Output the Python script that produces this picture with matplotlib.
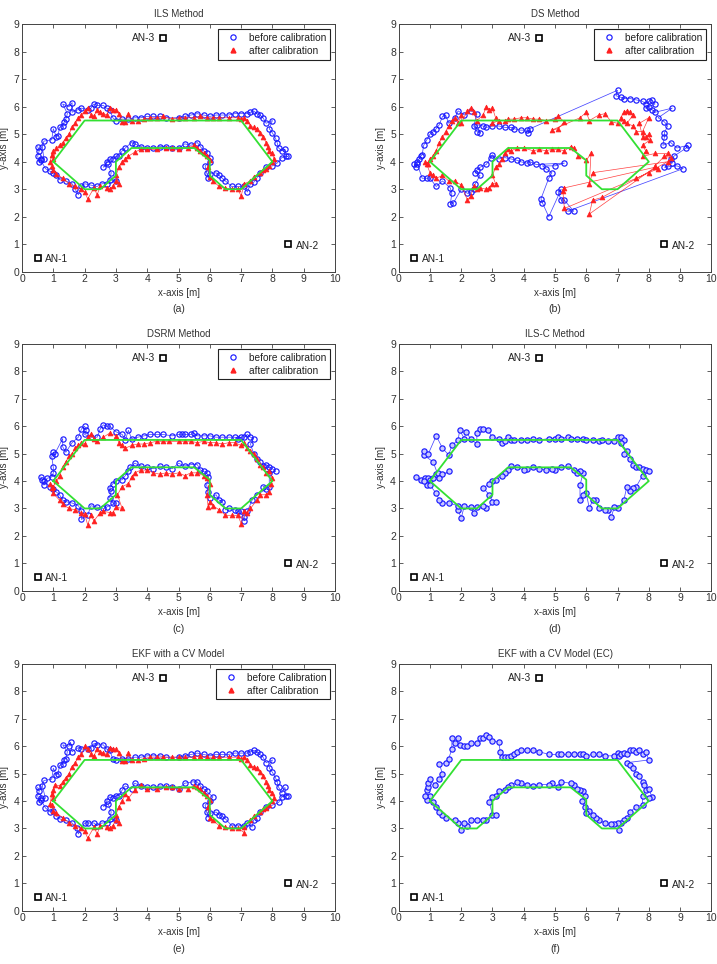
import numpy as np
import matplotlib
matplotlib.use("Agg")
import matplotlib.pyplot as plt
from matplotlib.lines import Line2D

plt.rcParams['font.family'] = ['Liberation Sans', 'DejaVu Sans']

# ---------------- data ----------------
ref_x = [1, 2, 7, 8, 7, 6.5, 6, 6, 5.5, 3.5, 3, 3, 2.5, 2, 1]
ref_y = [4, 5.5, 5.5, 4, 3, 3, 3.5, 4.05, 4.5, 4.5, 4, 3.5, 3, 3, 4]

anchor_names = ["AN-1", "AN-2", "AN-3"]
anchor_x = [0.5, 8.5, 4.5]
anchor_y = [0.5, 1.0, 8.5]

titles = ["ILS Method", "DS Method", "DSRM Method", "ILS-C Method",
          "EKF with a CV Model", "EKF with a CV Model (EC)"]
captions = ["(a)", "(b)", "(c)", "(d)", "(e)", "(f)"]
legend_before = ["before calibration", "before calibration", "before calibration", None,
                 "before Calibration", None]
legend_after = ["after calibration", "after calibration", "after calibration", None,
                "after Calibration", None]

a_before = [(0.5,4.55),(0.55,4.4),(0.5,4.2),(0.55,4.0),(0.6,4.1),(0.7,4.1),(0.65,4.55),(0.7,4.75),
            (0.95,4.8),(1.0,5.2),(1.1,4.9),(1.15,4.95),(1.2,5.25),(1.3,5.3),(1.35,5.45),(1.4,5.55),
            (1.45,5.75),(1.3,6.1),(1.5,6.0),(1.6,6.15),(1.6,5.8),(1.8,5.9),(1.9,5.95),(2.1,5.9),
            (2.2,5.95),(2.3,6.1),(2.4,6.05),(2.6,6.05),(2.7,5.95),(2.8,5.9),(2.9,5.6),(3.0,5.5),
            (3.2,5.55),(3.4,5.55),(3.6,5.6),(3.8,5.6),(4.0,5.65),(4.2,5.65),(4.4,5.65),(4.6,5.6),
            (5.0,5.6),(5.2,5.65),(5.4,5.7),(5.6,5.75),(5.8,5.7),(6.0,5.65),(6.2,5.7),(6.4,5.7),
            (6.6,5.7),(6.8,5.75),(7.0,5.75),(7.2,5.75),(7.3,5.8),(7.4,5.85),(7.5,5.75),(7.6,5.7),
            (7.7,5.6),(7.8,5.4),(8.0,5.5),(7.9,5.2),(8.0,5.05),(8.1,4.85),(8.15,4.7),(8.2,4.5),
            (8.3,4.4),(8.4,4.45),(8.45,4.2),(8.5,4.2),(8.3,4.15),(8.15,3.95),(8.0,3.85),(7.8,3.8),
            (7.6,3.6),(7.5,3.4),(7.4,3.25),(7.3,3.2),(7.2,2.9),(7.1,3.1),(6.9,3.1),(6.7,3.1),
            (6.5,3.3),(6.4,3.4),(6.3,3.5),(6.2,3.6),(6.0,3.55),(5.95,3.4),(5.9,3.6),(5.85,3.85),
            (6.0,4.0),(6.0,4.15),(5.9,4.3),(5.8,4.4),(5.7,4.55),(5.6,4.7),(5.4,4.6),(5.2,4.65),
            (5.0,4.5),(4.8,4.5),(4.6,4.55),(4.4,4.55),(4.2,4.5),(4.0,4.5),(3.8,4.55),(3.6,4.65),
            (3.5,4.7),(3.3,4.5),(3.2,4.4),(3.1,4.2),(3.0,4.2),(2.9,4.1),(2.8,4.1),(2.7,4.0),
            (2.6,3.8),(2.75,3.9),(2.85,3.6),(2.8,3.35),(3.0,3.3),(2.7,3.2),(2.55,3.2),(2.4,3.1),
            (2.2,3.15),(2.0,3.2),(1.9,3.1),(1.8,2.8),(1.7,3.0),(1.6,3.2),(1.4,3.3),(1.2,3.35),
            (1.1,3.5),(1.0,3.6),(0.9,3.65),(0.75,3.75),(0.6,4.05)]

a_after = [(0.9,4.0),(0.95,4.25),(1.0,4.4),(1.0,4.1),(1.1,4.5),(1.2,4.6),(1.3,4.7),(1.4,4.85),
           (1.5,5.0),(1.6,5.25),(1.7,5.4),(1.8,5.6),(1.9,5.7),(2.0,5.85),(2.1,5.95),(2.2,5.7),
           (2.3,5.65),(2.4,5.9),(2.5,5.8),(2.6,5.75),(2.7,5.7),(2.8,5.95),(2.9,5.9),(3.0,5.9),
           (3.1,5.75),(3.2,5.45),(3.3,5.45),(3.4,5.75),(3.5,5.5),(3.7,5.5),(3.9,5.55),(4.1,5.6),
           (4.3,5.6),(4.5,5.65),(4.8,5.55),(5.0,5.6),(5.2,5.6),(5.5,5.6),(5.7,5.65),(5.9,5.6),
           (6.1,5.6),(6.3,5.6),(6.6,5.6),(6.9,5.6),(7.0,5.55),(7.1,5.6),(7.2,5.5),(7.3,5.3),
           (7.4,5.25),(7.5,5.2),(7.6,5.05),(7.7,4.9),(7.8,4.7),(7.85,4.55),(7.9,4.4),(8.0,4.3),
           (8.05,4.1),(8.0,4.0),(7.9,3.85),(7.8,3.75),(7.7,3.7),(7.6,3.6),(7.4,3.45),(7.3,3.3),
           (7.1,3.2),(7.0,2.75),(6.9,3.0),(6.7,3.0),(6.5,3.05),(6.3,3.1),(6.1,3.3),(6.0,3.45),
           (5.95,3.8),(6.0,4.05),(5.9,4.2),(5.8,4.3),(5.7,4.4),(5.6,4.5),(5.5,4.6),(5.3,4.5),
           (5.0,4.45),(4.8,4.5),(4.6,4.5),(4.3,4.45),(4.0,4.45),(3.8,4.45),(3.6,4.35),(3.4,4.2),
           (3.3,4.1),(3.2,4.0),(3.1,3.8),(3.0,3.5),(3.1,3.2),(3.0,3.3),(2.9,3.1),(2.8,3.0),
           (2.7,3.05),(2.5,3.1),(2.4,2.8),(2.3,3.05),(2.1,2.65),(2.0,2.9),(1.9,3.0),(1.7,3.1),
           (1.5,3.2),(1.3,3.4),(1.1,3.55),(1.0,3.7),(0.95,3.85)]

b_before = [(0.5,3.9),(0.55,3.8),(0.6,4.0),(0.65,4.1),(0.7,4.2),(0.75,4.25),(0.8,4.6),(0.9,4.8),
            (1.0,5.0),(1.1,5.1),(1.2,5.2),(1.3,5.35),(1.4,5.65),(1.5,5.7),(1.6,5.4),(1.8,5.6),
            (1.9,5.85),(2.1,5.7),(2.3,5.85),(2.5,5.75),(2.4,5.3),(2.5,5.1),(2.6,5.05),(2.5,5.35),
            (2.7,5.3),(2.8,5.25),(3.0,5.3),(3.2,5.3),(3.4,5.25),(3.6,5.25),(3.7,5.2),(3.9,5.15),
            (4.1,5.15),(4.15,5.05),(4.2,5.2),(7.0,6.6),(6.95,6.4),(7.1,6.35),(7.2,6.3),(7.4,6.3),
            (7.6,6.25),(7.8,6.2),(7.9,6.1),(8.0,6.2),(8.1,6.25),(8.2,6.1),(8.0,6.0),(7.9,5.95),
            (8.1,5.9),(8.2,5.8),(8.75,5.95),(8.3,5.6),(8.5,5.45),(8.6,5.3),(8.5,5.05),(8.5,4.9),
            (8.45,4.6),(8.7,4.7),(8.9,4.5),(9.25,4.6),(9.2,4.5),(8.8,4.2),(8.7,4.1),(8.75,3.95),
            (8.6,3.85),(8.5,3.8),(8.9,3.85),(9.1,3.75),(5.4,2.2),(5.6,2.2),(5.3,2.6),(5.2,2.6),
            (5.1,2.9),(5.2,3.0),(4.8,2.0),(4.6,2.5),(4.55,2.65),(4.8,3.4),(4.9,3.6),(4.7,3.75),
            (4.6,3.85),(5.0,3.85),(5.3,3.95),(4.4,3.9),(4.2,4.0),(4.1,3.95),(3.9,4.0),(3.8,4.05),
            (3.6,4.1),(3.4,4.15),(3.2,4.1),(3.0,4.25),(2.95,4.15),(2.8,3.9),(2.6,3.8),(2.5,3.7),
            (2.45,3.6),(2.6,3.5),(2.45,3.2),(2.4,3.0),(2.3,2.9),(2.2,2.85),(2.0,3.0),(1.75,2.5),
            (1.65,2.45),(1.7,2.85),(1.65,3.05),(1.4,3.3),(1.2,3.1),(1.0,3.4),(0.9,3.4),(0.75,3.4),
            (0.6,3.9)]

b_after = [(0.85,4.0),(0.95,3.9),(1.0,4.1),(1.1,4.2),(1.2,4.4),(1.3,4.7),(1.4,4.9),(1.5,5.1),
           (1.6,5.3),(1.7,5.5),(1.8,5.6),(1.9,5.4),(2.0,5.7),(2.0,5.4),(2.2,5.85),(2.3,5.95),
           (2.4,5.8),(2.5,5.5),(2.7,5.7),(2.8,6.0),(2.9,5.9),(3.0,5.95),(3.1,5.6),(3.0,5.4),
           (3.2,5.5),(3.4,5.5),(3.5,5.55),(3.7,5.55),(3.9,5.6),(4.1,5.6),(4.3,5.55),(4.5,5.55),
           (4.7,5.5),(5.0,5.55),(5.1,5.65),(5.3,5.45),(5.1,5.2),(4.9,5.15),(5.8,5.6),(6.0,5.8),
           (6.1,5.5),(6.4,5.7),(6.6,5.75),(6.8,5.45),(7.0,5.4),(7.2,5.5),(7.1,5.6),(7.2,5.8),
           (7.3,5.85),(7.4,5.8),(7.5,5.7),(7.3,5.4),(7.5,5.3),(7.6,5.1),(7.8,5.1),(8.0,5.6),
           (7.7,5.4),(7.8,4.9),(7.9,4.9),(8.0,5.0),(8.05,4.8),(7.8,4.6),(7.9,4.4),(7.8,4.2),
           (8.2,4.3),(8.6,4.3),(8.7,4.15),(8.5,4.2),(8.2,3.85),(8.3,3.75),(8.0,3.6),(7.6,3.4),
           (5.3,2.3),(5.25,2.95),(5.3,3.05),(8.2,3.8),(6.1,2.1),(6.2,2.6),(6.5,2.7),(8.6,4.0),
           (6.2,3.6),(6.1,3.2),(6.15,4.3),(6.0,4.05),(5.75,4.2),(5.6,4.5),(5.5,4.55),(5.3,4.4),
           (5.1,4.45),(4.9,4.45),(4.7,4.4),(4.5,4.45),(4.3,4.4),(4.0,4.5),(3.8,4.5),(3.6,4.4),
           (3.5,4.45),(3.4,4.3),(3.3,4.1),(3.2,3.9),(3.1,3.8),(3.0,3.5),(3.1,3.2),(3.0,3.2),
           (2.9,3.05),(2.8,3.0),(2.6,3.05),(2.5,3.0),(2.4,3.1),(2.3,2.75),(2.2,2.6),(2.0,3.15),
           (1.8,3.3),(1.6,3.3),(1.4,3.5),(1.2,3.4),(1.1,3.5),(1.0,3.6),(0.9,3.9)]

c_before = [(0.6,4.15),(0.65,4.05),(0.7,3.85),(0.8,4.1),(0.95,4.15),(1.0,4.3),(1.0,4.5),(0.95,4.9),
            (1.0,5.05),(1.05,5.0),(1.3,5.55),(1.3,5.25),(1.4,5.05),(1.6,5.4),(1.8,5.6),(1.9,5.9),
            (2.0,6.0),(2.05,5.85),(2.0,5.7),(2.2,5.6),(2.4,5.6),(2.5,5.9),(2.6,6.05),(2.7,6.0),
            (2.8,6.0),(3.0,5.8),(3.2,5.7),(3.3,5.5),(3.4,5.85),(3.5,5.55),(3.7,5.6),(3.9,5.65),
            (4.1,5.7),(4.3,5.7),(4.5,5.7),(4.8,5.65),(5.0,5.7),(5.1,5.7),(5.2,5.7),(5.4,5.7),
            (5.5,5.75),(5.6,5.65),(5.8,5.65),(6.0,5.65),(6.2,5.6),(6.4,5.6),(6.6,5.6),(6.8,5.6),
            (6.9,5.55),(7.0,5.6),(7.1,5.6),(7.2,5.7),(7.3,5.6),(7.4,5.55),(7.3,5.35),(7.4,5.0),
            (7.5,4.8),(7.6,4.7),(7.7,4.55),(7.8,4.6),(7.9,4.5),(8.0,4.45),(8.1,4.35),(7.9,4.3),
            (7.9,3.8),(7.7,3.8),(7.8,3.7),(7.5,3.5),(7.35,3.3),(7.2,2.9),(7.1,2.7),(7.1,2.55),
            (7.0,2.9),(6.9,2.9),(6.8,2.95),(6.6,3.0),(6.5,2.95),(6.4,3.25),(6.3,3.3),(6.2,3.5),
            (6.0,3.4),(5.95,3.6),(5.9,3.85),(5.95,4.15),(5.9,4.3),(5.8,4.35),(5.7,4.4),(5.6,4.6),
            (5.4,4.6),(5.2,4.55),(5.0,4.65),(4.8,4.45),(4.6,4.5),(4.4,4.55),(4.2,4.45),(4.0,4.5),
            (3.8,4.55),(3.6,4.65),(3.45,4.5),(3.4,4.35),(3.3,4.2),(3.2,4.05),(3.0,4.0),(2.9,3.9),
            (2.8,3.75),(2.85,3.65),(2.8,3.4),(2.9,3.2),(3.0,3.2),(2.7,3.05),(2.6,3.0),(2.4,3.05),
            (2.2,3.1),(2.1,2.75),(1.9,2.6),(1.9,2.9),(1.8,3.1),(1.6,3.2),(1.4,3.25),(1.3,3.3),
            (1.2,3.5),(1.1,3.6),(1.0,3.7),(0.9,3.8),(0.7,4.0)]

c_after = [(0.9,3.9),(1.0,3.8),(1.1,4.0),(1.2,4.2),(1.3,4.5),(1.4,4.7),(1.5,4.9),(1.6,5.0),
           (1.7,5.2),(1.8,5.3),(1.9,5.4),(2.0,5.35),(2.1,5.6),(2.2,5.7),(2.3,5.55),(2.4,5.45),
           (2.6,5.6),(2.8,5.75),(3.0,5.65),(3.1,5.4),(3.2,5.3),(3.3,5.2),(3.5,5.3),(3.7,5.35),
           (3.9,5.35),(4.1,5.4),(4.3,5.45),(4.5,5.45),(4.7,5.45),(5.0,5.45),(5.2,5.45),(5.4,5.45),
           (5.6,5.4),(5.8,5.45),(6.0,5.4),(6.2,5.4),(6.4,5.35),(6.6,5.4),(6.8,5.4),(7.0,5.3),
           (7.1,5.4),(7.2,5.2),(7.3,5.1),(7.4,5.0),(7.5,4.8),(7.6,4.6),(7.7,4.5),(7.8,4.3),
           (7.9,4.35),(8.0,4.1),(7.95,3.9),(7.9,3.6),(7.8,3.5),(7.6,3.5),(7.5,3.3),(7.3,3.0),
           (7.2,2.85),(7.1,2.9),(7.0,2.45),(6.9,2.75),(6.7,2.75),(6.5,2.75),(6.3,2.95),(6.1,3.1),
           (6.0,3.25),(5.95,3.05),(5.9,3.5),(6.0,3.9),(5.9,4.1),(5.8,4.2),(5.6,4.3),(5.4,4.3),
           (5.2,4.2),(5.0,4.3),(4.8,4.25),(4.6,4.3),(4.4,4.25),(4.2,4.3),(4.0,4.4),(3.8,4.4),
           (3.6,4.3),(3.5,4.15),(3.4,3.9),(3.2,3.8),(3.05,3.5),(3.2,3.0),(3.0,3.05),(2.9,2.85),
           (2.8,2.85),(2.6,2.9),(2.5,2.85),(2.3,2.55),(2.2,2.75),(2.1,2.4),(2.0,2.8),(1.9,2.85),
           (1.7,2.95),(1.5,3.0),(1.3,3.15),(1.2,3.3),(1.0,3.55),(0.95,3.75)]

d_est = [(0.55,4.15),(0.7,4.05),(0.85,4.1),(0.9,3.85),(0.95,4.1),(1.0,4.05),(1.1,4.1),(1.2,4.25),
         (1.25,4.3),(1.4,4.25),(1.6,4.35),(1.3,4.1),(1.1,4.7),(0.8,4.95),(0.8,5.1),(0.95,5.0),
         (1.2,5.65),(1.4,5.2),(1.6,4.95),(1.7,5.3),(1.9,5.5),(1.95,5.85),(2.1,5.55),(2.15,5.8),
         (2.3,5.55),(2.5,5.35),(2.5,5.75),(2.6,5.9),(2.7,5.9),(2.85,5.85),(3.0,5.6),(3.2,5.55),
         (3.3,5.4),(3.4,5.45),(3.5,5.6),(3.6,5.5),(3.7,5.5),(3.9,5.5),(4.1,5.5),(4.3,5.55),
         (4.5,5.5),(4.8,5.55),(5.0,5.55),(5.1,5.6),(5.2,5.55),(5.4,5.6),(5.5,5.55),(5.7,5.55),
         (5.9,5.55),(6.0,5.5),(6.2,5.5),(6.4,5.45),(6.5,5.5),(6.7,5.45),(6.9,5.45),(7.0,5.6),
         (7.1,5.6),(7.2,5.5),(7.1,5.4),(7.3,5.1),(7.2,5.0),(7.4,4.8),(7.5,4.6),(7.6,4.5),
         (7.7,4.5),(7.8,4.45),(7.9,4.4),(8.0,4.35),(7.8,4.2),(7.6,3.8),(7.5,3.75),(7.4,3.65),
         (7.3,3.8),(7.2,3.3),(7.0,3.0),(6.9,3.05),(6.8,2.7),(6.7,2.95),(6.6,2.95),(6.4,3.0),
         (6.3,3.3),(6.2,3.3),(6.1,3.0),(6.0,3.55),(5.9,3.5),(5.8,3.3),(5.8,3.85),(5.9,4.3),
         (5.8,4.35),(5.7,4.3),(5.6,4.4),(5.4,4.55),(5.2,4.5),(5.0,4.4),(4.9,4.45),(4.7,4.4),
         (4.5,4.45),(4.3,4.5),(4.1,4.45),(4.0,4.4),(3.8,4.5),(3.6,4.55),(3.5,4.4),(3.4,4.3),
         (3.3,4.2),(3.1,4.05),(3.0,4.0),(2.9,3.9),(2.7,3.75),(2.9,3.5),(3.0,3.25),(3.1,3.25),
         (2.8,3.0),(2.7,3.1),(2.5,3.05),(2.4,2.85),(2.3,3.05),(2.1,3.1),(2.0,2.65),(1.9,2.95),
         (1.9,3.1),(1.6,3.2),(1.4,3.2),(1.3,3.3),(1.2,3.55),(1.0,3.85),(0.8,4.0)]

e_before = [(0.5,4.5),(0.55,4.35),(0.5,4.2),(0.55,3.95),(0.6,4.1),(0.75,4.1),(0.65,4.55),(0.7,4.75),
            (0.95,4.8),(1.0,5.2),(1.1,4.95),(1.15,5.0),(1.2,5.3),(1.3,5.35),(1.35,5.5),(1.4,5.55),
            (1.45,5.8),(1.3,6.05),(1.5,6.0),(1.55,6.15),(1.6,5.8),(1.8,5.95),(1.9,5.9),(2.1,5.9),
            (2.2,5.95),(2.3,6.1),(2.4,6.05),(2.6,6.05),(2.7,5.9),(2.8,5.85),(2.9,5.55),(3.0,5.5),
            (3.2,5.55),(3.4,5.55),(3.6,5.6),(3.8,5.6),(4.0,5.65),(4.2,5.65),(4.4,5.65),(4.6,5.6),
            (5.0,5.6),(5.2,5.65),(5.4,5.7),(5.6,5.75),(5.8,5.7),(6.0,5.65),(6.2,5.7),(6.4,5.7),
            (6.6,5.7),(6.8,5.75),(7.0,5.75),(7.2,5.75),(7.3,5.8),(7.4,5.85),(7.5,5.8),(7.6,5.7),
            (7.7,5.6),(7.8,5.4),(8.0,5.5),(7.9,5.2),(8.0,5.05),(8.1,4.85),(8.15,4.7),(8.2,4.5),
            (8.3,4.3),(8.4,4.5),(8.45,4.2),(8.5,4.2),(8.3,4.15),(8.2,3.95),(8.0,3.85),(7.8,3.8),
            (7.6,3.6),(7.5,3.4),(7.4,3.3),(7.35,3.05),(7.2,3.2),(7.1,3.1),(6.9,3.1),(6.7,3.1),
            (6.5,3.35),(6.4,3.45),(6.3,3.5),(6.2,3.6),(6.0,3.55),(5.95,3.4),(5.9,3.6),(5.85,3.85),
            (6.0,4.0),(6.1,4.15),(5.9,4.35),(5.8,4.45),(5.7,4.55),(5.6,4.7),(5.45,4.7),(5.2,4.65),
            (5.0,4.45),(4.8,4.5),(4.6,4.55),(4.4,4.55),(4.2,4.5),(4.0,4.5),(3.8,4.55),(3.6,4.65),
            (3.5,4.45),(3.3,4.55),(3.2,4.4),(3.1,4.2),(3.0,4.2),(2.9,4.1),(2.8,4.15),(2.7,4.0),
            (2.6,3.8),(2.75,3.9),(2.85,3.6),(2.8,3.35),(3.0,3.3),(2.7,3.2),(2.55,3.2),(2.4,3.1),
            (2.3,3.2),(2.1,3.2),(2.0,3.2),(1.8,2.8),(1.75,3.0),(1.6,3.2),(1.4,3.3),(1.2,3.35),
            (1.1,3.45),(1.0,3.65),(0.9,3.6),(0.75,3.75),(0.6,4.05)]

e_after = [(0.9,3.9),(0.95,4.25),(1.0,4.4),(1.0,4.1),(1.05,4.6),(1.2,4.55),(1.3,4.7),(1.4,4.85),
           (1.5,5.0),(1.6,5.25),(1.7,5.4),(1.8,5.6),(1.9,5.7),(2.0,6.0),(2.1,5.9),(2.2,5.7),
           (2.3,5.65),(2.4,5.9),(2.5,5.8),(2.6,5.75),(2.7,5.7),(2.8,5.95),(2.9,5.9),(3.0,5.9),
           (3.1,5.75),(3.2,5.45),(3.3,5.45),(3.4,5.75),(3.5,5.5),(3.7,5.5),(3.9,5.55),(4.1,5.6),
           (4.3,5.6),(4.5,5.6),(4.8,5.6),(5.0,5.6),(5.2,5.6),(5.5,5.6),(5.7,5.65),(5.9,5.6),
           (6.1,5.6),(6.3,5.6),(6.6,5.6),(6.9,5.6),(7.0,5.55),(7.1,5.6),(7.2,5.5),(7.3,5.3),
           (7.4,5.25),(7.5,5.2),(7.6,5.05),(7.7,4.9),(7.8,4.7),(7.85,4.55),(7.9,4.4),(8.0,4.3),
           (8.05,4.1),(8.0,4.0),(7.9,3.85),(7.8,3.75),(7.7,3.7),(7.6,3.6),(7.4,3.45),(7.3,3.3),
           (7.1,3.05),(7.1,2.85),(6.9,3.0),(6.7,3.0),(6.5,3.05),(6.3,3.1),(6.1,3.3),(6.0,3.4),
           (5.95,3.8),(6.0,4.05),(5.9,4.2),(5.8,4.3),(5.7,4.45),(5.6,4.5),(5.5,4.55),(5.3,4.45),
           (5.0,4.45),(4.8,4.5),(4.6,4.5),(4.3,4.45),(4.0,4.45),(3.8,4.6),(3.6,4.4),(3.4,4.1),
           (3.3,4.25),(3.2,4.0),(3.1,3.8),(3.0,3.5),(3.1,3.2),(3.0,3.3),(2.9,3.1),(2.8,3.0),
           (2.7,3.05),(2.5,3.1),(2.4,2.8),(2.3,3.05),(2.1,2.65),(2.0,2.9),(1.9,3.0),(1.7,3.1),
           (1.5,3.2),(1.3,3.4),(1.1,3.55),(1.0,3.65),(0.95,3.85)]

f_est = [(1.0,4.2),(0.9,4.05),(0.85,4.2),(0.9,4.4),(0.95,4.5),(0.95,4.65),(1.0,4.8),(1.15,4.6),
         (1.3,4.8),(1.4,5.0),(1.3,5.35),(1.5,5.4),(1.6,5.55),(1.7,5.9),(1.7,6.3),(1.8,6.1),
         (1.9,6.3),(1.95,6.05),(2.1,6.0),(2.2,6.0),(2.3,6.1),(2.5,6.1),(2.6,6.3),(2.7,6.3),
         (2.8,6.4),(2.9,6.35),(3.0,6.2),(3.2,6.15),(3.25,5.8),(3.3,5.6),(3.4,5.6),(3.5,5.6),
         (3.6,5.65),(3.7,5.7),(3.8,5.8),(3.9,5.85),(4.1,5.85),(4.3,5.85),(4.5,5.8),(4.8,5.7),
         (5.1,5.7),(5.2,5.7),(5.4,5.7),(5.6,5.7),(5.8,5.7),(5.9,5.7),(6.0,5.65),(6.2,5.7),
         (6.4,5.7),(6.6,5.65),(6.9,5.65),(7.0,5.75),(7.05,5.65),(7.1,5.7),(7.2,5.75),(7.3,5.7),
         (7.4,5.85),(7.5,5.85),(7.6,5.8),(7.7,5.85),(7.8,5.7),(7.9,5.8),(8.0,5.5),(7.3,5.4),
         (7.4,5.3),(7.5,5.2),(7.6,5.0),(7.7,4.9),(7.8,4.7),(7.85,4.6),(7.9,4.4),(8.0,4.45),
         (8.1,4.15),(8.0,4.1),(7.8,4.2),(7.8,3.85),(7.6,3.8),(7.4,3.6),(7.3,3.4),(7.2,3.3),
         (7.1,3.2),(7.05,2.95),(7.0,3.2),(6.9,3.15),(6.8,3.15),(6.6,3.2),(6.4,3.3),(6.3,3.4),
         (6.2,3.5),(6.1,3.65),(6.0,3.55),(5.95,3.8),(5.85,4.0),(5.95,4.2),(5.9,4.35),(5.8,4.4),
         (5.7,4.45),(5.6,4.6),(5.5,4.65),(5.2,4.7),(5.1,4.5),(4.9,4.65),(4.8,4.6),(4.5,4.6),
         (4.3,4.55),(4.1,4.6),(3.9,4.65),(3.8,4.7),(3.6,4.6),(3.5,4.5),(3.4,4.4),(3.2,4.35),
         (3.1,4.2),(3.0,4.15),(2.9,3.95),(3.0,3.5),(3.1,3.5),(2.8,3.3),(2.7,3.3),(2.5,3.3),
         (2.3,3.3),(2.2,3.1),(2.1,3.2),(2.0,2.95),(1.9,3.2),(1.8,3.3),(1.5,3.4),(1.4,3.5),
         (1.3,3.6),(1.2,3.8),(1.1,3.95)]

before_series = [a_before, b_before, c_before, d_est, e_before, f_est]
after_series = [a_after, b_after, c_after, None, e_after, None]

# ---------------- figure ----------------
W, H = 717, 964
fig = plt.figure(figsize=(W / 100, H / 100), dpi=100)

col_left = [22, 398.7]
col_right = [335, 711.3]
row_top = [24.3, 344, 664]
row_bot = [271.7, 590.7, 910.7]
cap_y = [309, 629, 949]

FS = 7.0
BLUE = '#1a1aff'
RED = '#ff2020'
GREEN = '#33e033'
AXC = '#444444'

for i in range(6):
    r, c = divmod(i, 2)
    l, rr = col_left[c], col_right[c]
    t, b = row_top[r], row_bot[r]
    ax = fig.add_axes([l / W, 1 - b / H, (rr - l) / W, (b - t) / H])

    single = after_series[i] is None
    bx, by = np.array(before_series[i]).T
    ax.plot(bx, by, '-', color=BLUE, lw=0.55, alpha=0.8, zorder=2)
    ax.plot(bx, by, 'o', ls='none', mfc=('#c8c8ff' if single else 'none'), mec=BLUE,
            ms=3.8, mew=0.85, zorder=3)
    if not single:
        rx, ry = np.array(after_series[i]).T
        ax.plot(rx, ry, '-', color=RED, lw=0.5, alpha=0.85, zorder=4)
        ax.plot(rx, ry, '^', ls='none', mfc=RED, mec=RED, ms=3.5, mew=0.5, zorder=5)

    ax.plot(ref_x, ref_y, '-', color=GREEN, lw=1.3, zorder=6)

    ax.plot(anchor_x, anchor_y, 's', ls='none', mfc='white', mec='black',
            ms=5, mew=1.2, zorder=7)
    for name, x, y in zip(anchor_names, anchor_x, anchor_y):
        if name == "AN-3":
            ax.text(x - 0.25, y, name, ha='right', va='center', fontsize=FS + 0.3, color='#222222')
        else:
            ax.text(x + 0.25, y - 0.05, name, ha='left', va='center', fontsize=FS + 0.3, color='#222222')

    ax.set_xlim(0, 10)
    ax.set_ylim(0, 9)
    ax.set_xticks(range(0, 11))
    ax.set_yticks(range(0, 10))
    ax.tick_params(direction='in', length=3, width=0.6, top=True, right=True,
                   labelsize=FS + 0.5, colors=AXC, pad=2)
    for lab in ax.get_xticklabels() + ax.get_yticklabels():
        lab.set_color('#333333')
    for sp in ax.spines.values():
        sp.set_color(AXC)
        sp.set_linewidth(0.7)
    ax.set_xlabel("x-axis [m]", fontsize=FS, color='#333333', labelpad=2.5)
    ax.set_ylabel("y-axis [m]", fontsize=FS, color='#333333', labelpad=3)
    ax.set_title(titles[i], fontsize=FS, color='#333333', pad=5)

    if legend_before[i] is not None:
        h1 = Line2D([], [], marker='o', ls='none', mfc='none', mec=BLUE, ms=3.8, mew=0.85)
        h2 = Line2D([], [], marker='^', ls='none', mfc=RED, mec=RED, ms=3.5)
        leg = ax.legend([h1, h2], [legend_before[i], legend_after[i]], loc='upper right',
                        fontsize=FS + 0.3, frameon=True, fancybox=False, framealpha=1,
                        edgecolor='#222222', handlelength=2.2, handletextpad=0.5,
                        borderpad=0.35, labelspacing=0.3, borderaxespad=0.5)
        leg.get_frame().set_linewidth(0.8)
        for txt in leg.get_texts():
            txt.set_color('#222222')

    fig.text((l + rr) / 2 / W, 1 - cap_y[i // 2] / H, captions[i], ha='center', va='center',
             fontsize=FS + 0.6, color='#333333')

fig.savefig("out.png", dpi=100)
